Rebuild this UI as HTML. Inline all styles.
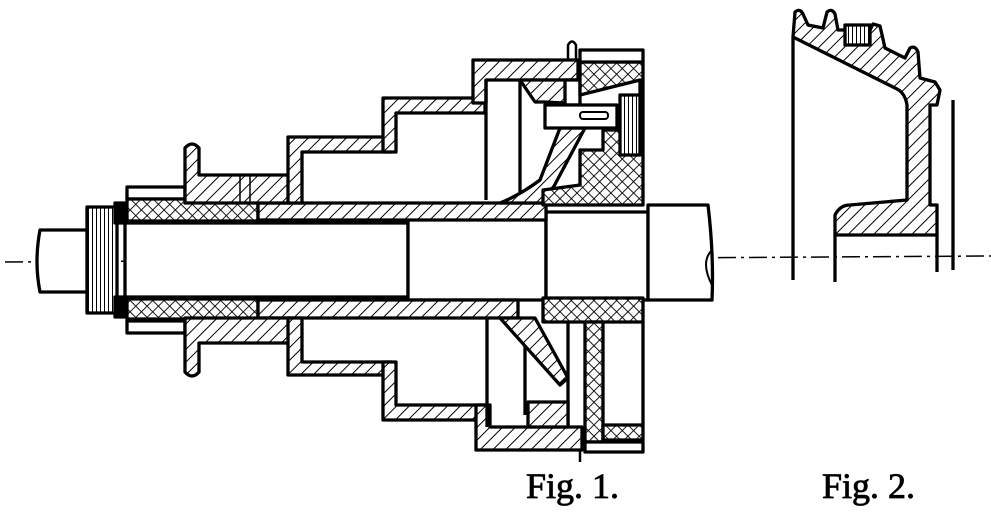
<!DOCTYPE html>
<html><head><meta charset="utf-8"><style>
html,body{margin:0;padding:0;background:#fff;}
svg{display:block}
text{font-family:"Liberation Serif",serif;}
</style></head><body>
<svg width="991" height="512" viewBox="0 0 991 512" xmlns="http://www.w3.org/2000/svg">
<defs>
<pattern id="h" width="9" height="9" patternUnits="userSpaceOnUse" patternTransform="rotate(45)">
<rect width="9" height="9" fill="#fff"/><line x1="0" y1="0" x2="0" y2="9" stroke="#000" stroke-width="2"/></pattern>
<pattern id="x" width="8" height="8" patternUnits="userSpaceOnUse" patternTransform="rotate(45)">
<rect width="8" height="8" fill="#fff"/><line x1="0" y1="0" x2="0" y2="8" stroke="#000" stroke-width="1.8"/><line x1="0" y1="0" x2="8" y2="0" stroke="#000" stroke-width="1.8"/></pattern>
<pattern id="n" width="4" height="6" patternUnits="userSpaceOnUse">
<rect width="4" height="6" fill="#fff"/><line x1="0" y1="0" x2="0" y2="6" stroke="#000" stroke-width="2"/></pattern>
</defs>
<g stroke="#000" stroke-width="3.3" fill="none" stroke-linejoin="round">
<line x1="5" y1="262" x2="991" y2="256" stroke-width="1.5" stroke-dasharray="18,5,3,5"/>
<path d="M87 230 H40 Q34 262 40 292 H87" fill="#fff"/>
<rect x="87" y="207" width="30" height="106" fill="url(#n)"/>
<rect x="115" y="203" width="10" height="20" fill="#000"/>
<rect x="115" y="297" width="10" height="20" fill="#000"/>
<rect x="127" y="187" width="58" height="12" fill="#fff"/>
<rect x="127" y="321" width="58" height="12" fill="#fff"/>
<rect x="125" y="223" width="283" height="74" fill="#fff"/>
<rect x="408" y="216" width="138" height="84" fill="#fff"/>
<rect x="546" y="212" width="102" height="88" fill="#fff"/>
<path d="M648 205 H708 Q714 255 712 300 H648 Z" fill="#fff"/>
<path d="M712 250 Q700 262 712 285" stroke-width="2"/>
<rect x="127" y="199" width="131" height="22" fill="url(#x)"/>
<rect x="127" y="299" width="131" height="20" fill="url(#x)"/>
<rect x="258" y="203" width="288" height="17" fill="url(#h)"/>
<rect x="258" y="300" width="260" height="18" fill="url(#h)"/>
<path d="M185 203 V148 Q192 140 199 148 V175 H290 V203 Z" fill="url(#h)"/>
<path d="M185 318 V372 Q192 380 199 372 V343 H290 V318 Z" fill="url(#h)"/>
<line x1="240" y1="176" x2="240" y2="203" stroke-width="1.5"/>
<line x1="250" y1="176" x2="250" y2="203" stroke-width="1.5"/>
<path d="M288 175 V137 H392 V152 H302 V203 H288 Z" fill="url(#h)"/>
<path d="M288 318 V375 H392 V362 H302 V318 Z" fill="url(#h)"/>
<path d="M383 152 V98 H485 V113 H396 V152 Z" fill="url(#h)"/>
<path d="M383 362 V420 H485 V405 H396 V362 Z" fill="url(#h)"/>
<path d="M473 103 V60 H578 V80 H486 V103 Z" fill="url(#h)"/>
<path d="M476 405 V450 H582 V427 H490 V405 Z" fill="url(#h)"/>
<line x1="486" y1="80" x2="486" y2="200"/>
<line x1="520" y1="80" x2="520" y2="200"/>
<line x1="487" y1="318" x2="487" y2="427"/>
<line x1="525" y1="345" x2="525" y2="415"/>
<line x1="568" y1="322" x2="568" y2="427"/>
<path d="M520 80 H578 V103 H565 L545 102 H535 Z" fill="url(#h)"/>
<rect x="565" y="80" width="15" height="25" fill="#fff"/>
<path d="M500 203 Q520 195 540 180 L560 128 L585 128 L545 203 Z" fill="url(#h)"/>
<path d="M500 318 H535 L568 378 L560 385 Z" fill="url(#h)"/>
<rect x="528" y="402" width="40" height="25" fill="url(#h)"/>
<path d="M580 62 H643 V205 H543 V190 L580 185 V150 L603 150 V130 L640 130 V80 L600 90 L580 95 Z" fill="url(#x)"/>
<rect x="580" y="50" width="63" height="12" fill="#fff"/>
<rect x="620" y="95" width="20" height="60" fill="url(#n)"/>
<path d="M543 298 H643 V322 H543 Z" fill="url(#x)"/>
<rect x="585" y="322" width="18" height="120" fill="url(#x)"/>
<rect x="603" y="425" width="40" height="15" fill="url(#x)"/>
<rect x="585" y="442" width="58" height="10" fill="#fff"/>
<line x1="643" y1="322" x2="643" y2="425"/>
<rect x="545" y="105" width="72" height="23" fill="#fff"/>
<rect x="580" y="112" width="28" height="7" rx="3" stroke-width="2"/>
<path d="M568 60 V45 Q572 38 576 45 V60" stroke-width="2.5"/>
<path d="M580 450 V462" stroke-width="2.5"/>
<path d="M793 280 V37" />
<path d="M793 37 L795 12 Q800 8 803 14 L808 25 L823 28 L827 12 Q832 8 835 14 L838 30 L870 30 L873 24 L880 26 L885 48 L905 58 L910 48 Q915 45 918 52 L920 78 L935 82 L940 90 L937 105 H930 V205 H937 V235 H835 V215 Q840 205 850 205 L907 200 V105 Q905 92 895 88 Z" fill="url(#h)"/>
<rect x="845" y="25" width="25" height="20" fill="url(#n)"/>
<path d="M835 235 V282"/>
<path d="M937 235 V272"/>
<path d="M953 100 V270"/>
</g>
<text x="526" y="498" font-size="36" stroke="#000" stroke-width="0.8">Fig. 1.</text>
<text x="822" y="498" font-size="36" stroke="#000" stroke-width="0.8">Fig. 2.</text>
</svg>
</body></html>
